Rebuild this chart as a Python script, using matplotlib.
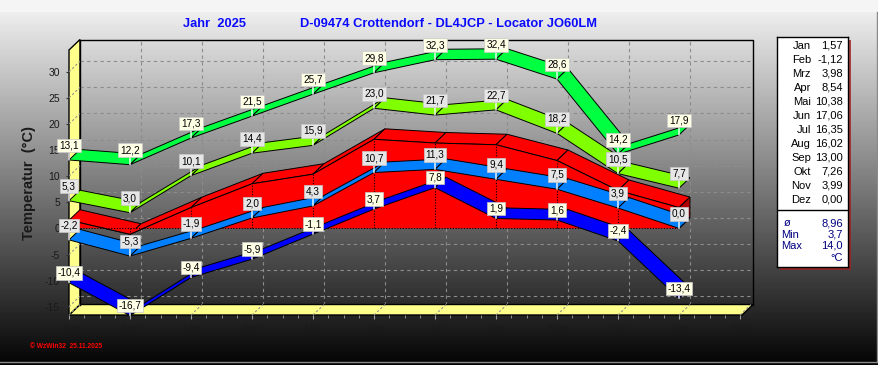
import numpy as np
import matplotlib.pyplot as plt
from matplotlib.patches import Polygon, Rectangle

plt.rcParams['font.family'] = ['Liberation Sans', 'DejaVu Sans']
plt.rcParams['axes.unicode_minus'] = False

# data
months = ['Jan', 'Feb', 'Mrz', 'Apr', 'Mai', 'Jun', 'Jul', 'Aug', 'Sep', 'Okt', 'Nov', 'Dez']
t_max = [13.1, 12.2, 17.3, 21.5, 25.7, 29.8, 32.3, 32.4, 28.6, 14.2, 17.9]
t_mean_max = [5.3, 3.0, 10.1, 14.4, 15.9, 23.0, 21.7, 22.7, 18.2, 10.5, 7.7]
t_mean = [1.57, -1.12, 3.98, 8.54, 10.38, 17.06, 16.35, 16.02, 13.00, 7.26, 3.99, 0.00]
t_mean_min = [-2.2, -5.3, -1.9, 2.0, 4.3, 10.7, 11.3, 9.4, 7.5, 3.9, 0.0]
t_min = [-10.4, -16.7, -9.4, -5.9, -1.1, 3.7, 7.8, 1.9, 1.6, -2.4, -13.4]
year_avg = 8.96
year_min = 3.7
year_max = 14.0
yticks = list(range(-15, 31, 5))

W, H = 879, 365
fig = plt.figure(figsize=(W / 100, H / 100), dpi=100)


def fmt(v, nd=1):
    return f"{v:.{nd}f}".replace('.', ',')


# background gradient
bg = fig.add_axes([0, 0, 1, 1], zorder=-10)
rows = np.arange(H)
shade = np.where(rows < 12, 0.96, 0.93 - 0.91 * (rows - 12) / 350.0)
shade = np.clip(shade, 0, 1)
img = np.repeat(shade[:, None], W, axis=1)
bg.imshow(img, cmap='gray', vmin=0, vmax=1, extent=[0, W, H, 0], aspect='auto')
bg.plot([877, 877], [12, 362], color='#8a8a8a', lw=1)
bg.plot([0, 877], [362, 362], color='#8a8a8a', lw=1)
bg.set_xlim(0, W)
bg.set_ylim(H, 0)
bg.axis('off')

# front plane of the 3d chart (pixels)
L, R, T, B = 69, 742, 50, 315
px_m = 61.0
px_deg = 235 / 45
y0px = 228.4
ax = fig.add_axes([L / W, (H - B) / H, (R - L) / W, (B - T) / H])
xmax = (R - L) / px_m
ybot = (y0px - B) / px_deg
ytop = (y0px - T) / px_deg
dx = 11 / px_m
dy = 10.5 / px_deg
ax.set_xlim(0, xmax)
ax.set_ylim(ybot, ytop)
ax.patch.set_visible(False)
for s in ax.spines.values():
    s.set_visible(False)

# walls
ax.add_patch(Polygon([(0, ybot), (xmax, ybot), (xmax + dx, ybot + dy), (dx, ybot + dy)],
                     fc='#ffff8c', ec='black', lw=1, zorder=1, clip_on=False))
ax.add_patch(Polygon([(0, ybot), (0, ytop), (dx, ytop + dy), (dx, ybot + dy)],
                     fc='#ffff8c', ec='black', lw=1, zorder=1, clip_on=False))
ax.plot([dx, dx, xmax + dx, xmax + dx], [ybot + dy, ytop + dy, ytop + dy, ybot + dy],
        color='black', lw=1, zorder=1, clip_on=False)

# grid
for yv in yticks:
    ax.plot([dx, xmax + dx], [yv + dy, yv + dy], color='#8c8c8c', lw=0.8,
            dashes=(3, 3), zorder=0.5, clip_on=False)
    ax.plot([0, dx], [yv, yv + dy], color='#909090', lw=0.8, dashes=(2, 2),
            zorder=1.5, clip_on=False)
for i in range(1, 11):
    ax.plot([i + dx, i + dx], [ybot + dy, ytop + dy], color='#8c8c8c', lw=0.8,
            dashes=(3, 3), zorder=0.5, clip_on=False)
for i in range(12):
    ax.plot([i, i + dx], [ybot, ybot + dy], color='#909090', lw=0.8, dashes=(2, 2),
            zorder=1.5, clip_on=False)


def ribbon(vals, color, z):
    v = np.array(vals)
    for i in range(len(v) - 1):
        pts = [(i, v[i]), (i + 1, v[i + 1]), (i + 1 + dx, v[i + 1] + dy), (i + dx, v[i] + dy)]
        ax.add_patch(Polygon(pts, closed=True, fc=color, ec='black', lw=0.7,
                             zorder=z, clip_on=False))


def labels(vals, fc, off):
    for i, v in enumerate(vals):
        ax.annotate(fmt(v), xy=(i, v), xytext=(0, off), textcoords='offset pixels',
                    ha='center', va='center', fontsize=7.2, color='black',
                    bbox=dict(boxstyle='square,pad=0.18', fc=fc, ec='#c8c8c8', lw=0.5),
                    arrowprops=dict(arrowstyle='-', color='white', lw=1, shrinkA=0, shrinkB=0),
                    zorder=20, annotation_clip=False)


ribbon(t_max, '#00ff40', 3)
ribbon(t_mean_max, '#80ff00', 4)

# mean temperature as 3d area
m = np.array(t_mean[:11])
n = len(m)
ribbon(m, '#ff0000', 5)
front = [(0, 0)] + [(i, m[i]) for i in range(n)] + [(n - 1, 0)]
ax.add_patch(Polygon(front, fc='#ff0000', ec='none', zorder=5.1, clip_on=False))
ax.plot(range(n), m, color='black', lw=0.7, zorder=5.2, clip_on=False)
ax.add_patch(Polygon([(n - 1, 0), (n - 1, m[-1]), (n - 1 + dx, m[-1] + dy), (n - 1 + dx, dy)],
                     fc='#b00000', ec='black', lw=0.7, zorder=5.1, clip_on=False))
ax.plot([0, n - 1], [0, 0], color='black', lw=0.8, ls=(0, (1, 1.5)), zorder=5.3)
for i in range(1, n - 1):
    ax.plot([i, i], [0, m[i]], color='black', lw=0.8, ls=(0, (1, 1.5)), zorder=5.3)

ribbon(t_mean_min, '#0080ff', 6)
ribbon(t_min, '#0000ff', 7)

labels(t_max, '#ffffe6', 14.5)
labels(t_mean_max, '#e6e6e6', 14.5)
labels(t_mean_min, '#e6e6e6', 14.5)
labels(t_min, '#ffffe6', 10)

# axes ticks
ax.set_yticks(yticks)
ax.set_yticklabels([str(v) for v in yticks])
ax.set_xticks(range(12))
ax.set_xticklabels(months)
ax.set_xticks(np.arange(0, 11.01, 0.25), minor=True)
ax.tick_params(axis='y', length=2.2, color='#303030', labelcolor='#1a1a1a',
               labelsize=7.5, pad=4.3)
ax.tick_params(axis='x', which='major', length=3, color='#a0a0a0', labelcolor='#1a1a1a',
               labelsize=7.5, pad=3.5)
ax.tick_params(axis='x', which='minor', length=2, color='#a0a0a0')
ax.set_ylabel('Temperatur  (°C)', fontsize=10.5, fontweight='bold', color='#1a1a1a')
ax.yaxis.set_label_coords((36 - L) / (R - L), (B - 183) / (B - T))

# title and footer
fig.text(183 / W, 1 - 24 / H, 'Jahr  2025', color='#0a0aff', fontsize=9.3,
         fontweight='bold', va='center', ha='left')
fig.text(300 / W, 1 - 24 / H, 'D-09474 Crottendorf - DL4JCP - Locator JO60LM',
         color='#0a0aff', fontsize=9.3, fontweight='bold', va='center', ha='left')
fig.text(30 / W, 1 - 346 / H, '© WzWin32  25.11.2025', color='#ff0000', fontsize=4.8,
         fontweight='bold', va='center', ha='left')

# side panel with monthly means
pl, pr, pt, pb = 777, 848, 37, 267
fig.patches.append(Rectangle(((pl + 3) / W, 1 - (pb + 3) / H), (pr - pl) / W, (pb - pt) / H,
                             transform=fig.transFigure, fc='#a02020', ec='none',
                             alpha=0.8, zorder=1))
pan = fig.add_axes([pl / W, 1 - pb / H, (pr - pl) / W, (pb - pt) / H], zorder=5)
pan.set_xlim(0, pr - pl)
pan.set_ylim(pb - pt, 0)
pan.set_facecolor('white')
pan.set_xticks([])
pan.set_yticks([])
for s in pan.spines.values():
    s.set_color('black')
    s.set_linewidth(1)
fs = 8
for i, (mn, v) in enumerate(zip(months, t_mean)):
    yy = 8.7 + 14 * i
    pan.text(34, yy, mn, ha='right', va='center', fontsize=fs, color='black')
    pan.text(66, yy, fmt(v, 2), ha='right', va='center', fontsize=fs, color='black')
pan.plot([0, pr - pl], [173, 173], color='black', lw=1)
navy = '#000080'
pan.text(10, 186, 'ø', ha='center', va='center', fontsize=fs, color=navy)
pan.text(66, 186, fmt(year_avg, 2), ha='right', va='center', fontsize=fs, color=navy)
pan.text(4, 197.5, 'Min', ha='left', va='center', fontsize=fs, color=navy)
pan.text(66, 197.5, fmt(year_min), ha='right', va='center', fontsize=fs, color=navy)
pan.text(4, 209, 'Max', ha='left', va='center', fontsize=fs, color=navy)
pan.text(66, 209, fmt(year_max), ha='right', va='center', fontsize=fs, color=navy)
pan.text(66, 221, '°C', ha='right', va='center', fontsize=fs, color=navy)

fig.savefig('out.png', dpi=100)
